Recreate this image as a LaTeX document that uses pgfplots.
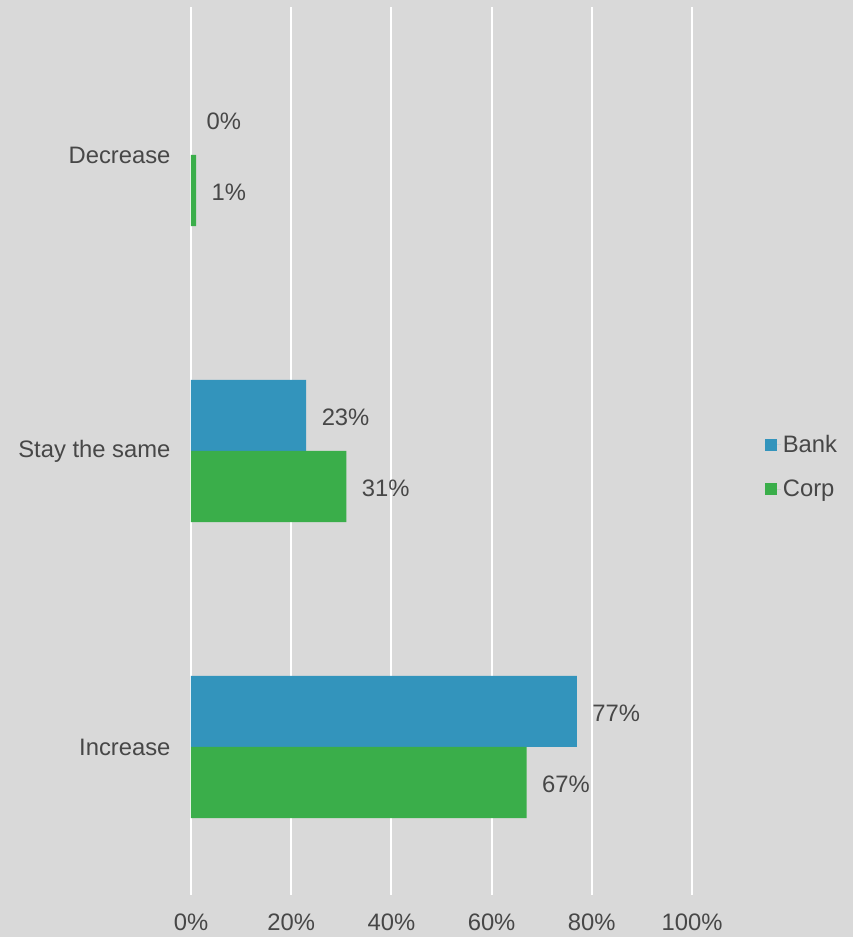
\documentclass[border=0pt]{standalone}
\usepackage{pgfplots}
\pgfplotsset{compat=1.18}
\usepackage{fontspec}
\setmainfont{Liberation Sans}
\definecolor{bg}{HTML}{D9D9D9}
\definecolor{bankc}{HTML}{3394BC}
\definecolor{corpc}{HTML}{3AAE4A}
\definecolor{txt}{HTML}{474747}
\begin{document}
\begin{tikzpicture}[x=1pt,y=1pt]
\fill[bg] (-191,-42) rectangle (662,895);
\useasboundingbox (-191,-42) rectangle (662,895);
\begin{axis}[
  at={(0,0)}, anchor=south west,
  scale only axis,
  width=501pt, height=888pt,
  xmin=0, xmax=100,
  ymin=-0.5, ymax=2.5,
  xtick={0,20,40,60,80,100},
  xticklabel={\pgfmathprintnumber{\tick}\%},
  ytick={0,1,2},
  yticklabels={Increase,Stay the same,Decrease},
  axis line style={draw=none},
  major tick length=0pt,
  xmajorgrids,
  major grid style={white, line width=2pt},
  tick label style={font=\fontsize{23.8}{28}\selectfont, text=txt},
  yticklabel style={xshift=-17pt},
  xticklabel style={yshift=-15pt},
  /pgf/number format/assume math mode=true,
  xbar,
  bar width=0.24,
  nodes near coords={\pgfmathprintnumber{\pgfplotspointmeta}\%},
  nodes near coords style={font=\fontsize{23.8}{28}\selectfont, text=txt, anchor=west, xshift=12pt, yshift=-2pt},
  legend style={at={(1.139,0.482)}, anchor=west, draw=none, fill=none,
    font=\fontsize{23.8}{28}\selectfont, text=txt, row sep=22pt,
    nodes={inner sep=2pt}},
  legend cell align=left,
  legend image code/.code={\fill[#1,/tikz/.cd] (-7pt,-6pt) rectangle (5pt,6pt); \path (-7pt,0pt) -- (9pt,0pt);},
]
\addplot[fill=bankc, draw=none, bar shift=0.12] coordinates {(77,0) (23,1)};
\addplot[fill=corpc, draw=none, bar shift=-0.12] coordinates {(67,0) (31,1) (1,2)};
\addplot[fill=none, draw=none, bar shift=0.12, forget plot] coordinates {(0,2)};
\legend{Bank,Corp}
\end{axis}
\end{tikzpicture}
\end{document}
